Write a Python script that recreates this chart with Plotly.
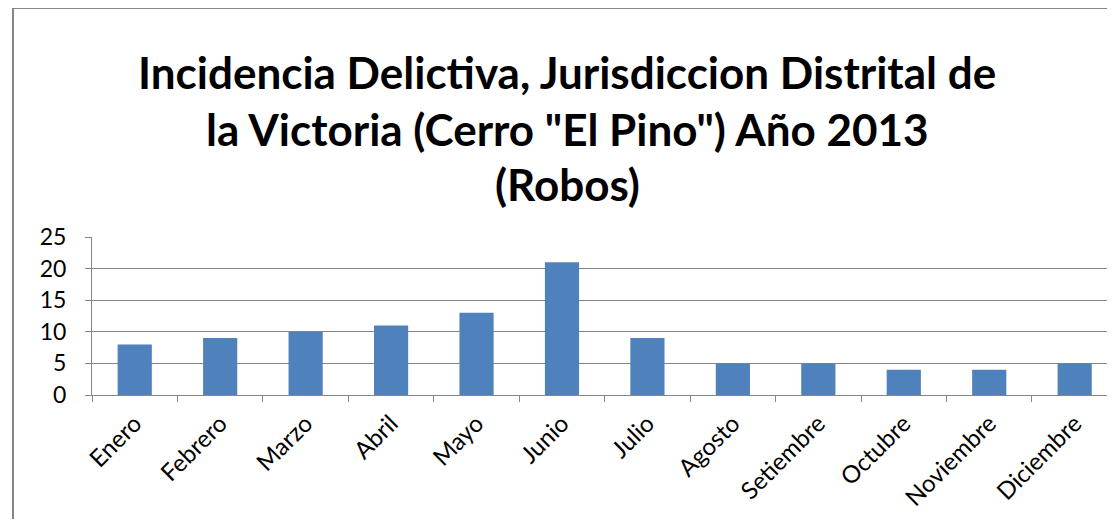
import plotly.graph_objects as go

months = ["Enero", "Febrero", "Marzo", "Abril", "Mayo", "Junio", "Julio",
          "Agosto", "Setiembre", "Octubre", "Noviembre", "Diciembre"]
robos = [8, 9, 10, 11, 13, 21, 9, 5, 5, 4, 4, 5]
title_lines = ["Incidencia Delictiva, Jurisdiccion Distrital de",
               "la Victoria (Cerro \"El Pino\") Año 2013",
               "(Robos)"]

# the page body has an 8px margin; compensate so the marks land on page pixels
OFF = 8
W, H = 1115 - OFF, 519 - OFF
L, T = 92 - OFF, 237 - OFF
R = 0
B = H - (395 - OFF)
pw, ph = W - L - R, H - T - B
grey = "#868686"
font_family = "Lato, 'Open Sans', sans-serif"

fig = go.Figure()
fig.add_trace(go.Bar(x=months, y=robos, marker=dict(color="#4F81BD", line=dict(width=0)),
                     width=0.4))

# plot extends slightly past the right edge in the reference (cropped)
span = pw / 85.45
fig.update_layout(
    width=W, height=H,
    margin=dict(l=L, r=R, t=T, b=B),
    paper_bgcolor="white", plot_bgcolor="white",
    showlegend=False,
    font=dict(family=font_family, color="black"),
    xaxis=dict(
        type="category", range=[-0.5, -0.5 + span],
        showline=True, linecolor=grey, linewidth=1,
        ticks="outside", tickson="boundaries", ticklen=6, tickcolor=grey,
        tickangle=-45, tickfont=dict(size=24, family=font_family),
        ticklabelstandoff=4,
        showgrid=False,
    ),
    yaxis=dict(
        range=[0, 25], dtick=5, tick0=0,
        showline=True, linecolor=grey, linewidth=1,
        ticks="outside", ticklen=6, tickcolor=grey,
        tickfont=dict(size=23, family=font_family),
        ticklabelstandoff=14,
        showgrid=True, gridcolor=grey, gridwidth=1.3,
        zeroline=False,
    ),
)

# title lines
centers_px = [72 - OFF, 129 - OFF, 184 - OFF]
for txt, cy in zip(title_lines, centers_px):
    fig.add_annotation(
        text="<b>" + txt + "</b>", xref="paper", yref="paper",
        x=(567 - OFF - L) / pw, y=1 + (T - cy) / ph,
        xanchor="center", yanchor="middle", showarrow=False,
        font=dict(size=44, family=font_family, color="black"),
    )

# outer chart border (cropped at right and bottom)
fig.add_shape(type="rect", xref="paper", yref="paper",
              x0=(13 - OFF - L) / pw, x1=1.2, y0=-1.5, y1=1 + (T - (8 - OFF)) / ph,
              line=dict(color=grey, width=2), layer="below")

fig.write_html("out.html")
